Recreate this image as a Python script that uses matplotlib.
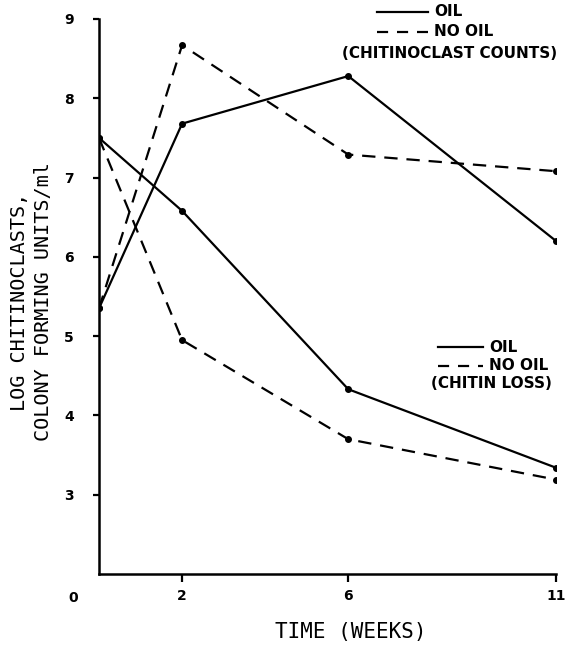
import matplotlib
matplotlib.use('Agg')
import matplotlib.pyplot as plt
from matplotlib.lines import Line2D

# Data (time in weeks, log CFU/ml)
weeks = [0, 2, 6, 11]
counts_oil = [5.35, 7.68, 8.28, 6.20]
counts_no_oil = [5.35, 8.67, 7.29, 7.08]
loss_oil = [7.50, 6.58, 4.33, 3.34]
loss_no_oil = [7.50, 4.95, 3.70, 3.19]

y_ticks = [3, 4, 5, 6, 7, 8, 9]
x_ticks = [2, 6, 11]
x_tick_labels = ['2', '6', '11']

plt.rcParams['font.family'] = 'DejaVu Sans'

fig = plt.figure(figsize=(5.68, 6.46), dpi=100)
ax = fig.add_axes([0.1743, 0.1115, 0.8046, 0.8591])

line_kw = dict(color='black', linewidth=1.6, marker='o', markersize=4)
dash = (0, (6, 4))
ax.plot(weeks, counts_oil, linestyle='-', **line_kw)
ax.plot(weeks, counts_no_oil, linestyle=dash, **line_kw)
ax.plot(weeks, loss_oil, linestyle='-', **line_kw)
ax.plot(weeks, loss_no_oil, linestyle=dash, **line_kw)

ax.set_xlim(0, 11)
ax.set_ylim(2, 9)
for side in ['top', 'right']:
    ax.spines[side].set_visible(False)
for side in ['left', 'bottom']:
    ax.spines[side].set_linewidth(1.8)

ax.set_yticks(y_ticks)
ax.set_yticklabels([str(v) for v in y_ticks], fontweight='bold', fontsize=10)
ax.set_xticks(x_ticks)
ax.set_xticklabels(x_tick_labels, fontweight='bold', fontsize=10)
ax.tick_params(axis='y', direction='out', length=4, width=1.6, pad=14)
ax.tick_params(axis='x', direction='out', length=6, width=1.6, pad=5)

# corner "0" label
ax.text(-0.62, 2 - 0.21, '0', fontweight='bold', fontsize=10, ha='center', va='top',
        clip_on=False)

# axis labels (lettering-guide style, so a monospaced face)
mono = 'DejaVu Sans Mono'
fig.text(0.034, 0.5325, 'LOG CHITINOCLASTS,', rotation=90, ha='center', va='center',
         fontsize=14.5, family=mono)
fig.text(0.077, 0.5325, 'COLONY FORMING UNITS/ml', rotation=90, ha='center', va='center',
         fontsize=14.5, family=mono)
fig.text(0.617, 0.022, 'TIME (WEEKS)', ha='center', va='center', fontsize=15, family=mono)


def legend_block(x0, x1, y_solid, y_dash, text_x, cap_x, cap_y, caption):
    fig.add_artist(Line2D([x0, x1], [y_solid, y_solid], color='black', linewidth=1.6,
                          transform=fig.transFigure))
    fig.add_artist(Line2D([x0, x1], [y_dash, y_dash], color='black', linewidth=1.6,
                          linestyle=(0, (5, 4)), transform=fig.transFigure))
    fig.text(text_x, y_solid, 'OIL', fontweight='bold', fontsize=11, ha='left', va='center')
    fig.text(text_x, y_dash, 'NO OIL', fontweight='bold', fontsize=11, ha='left', va='center')
    fig.text(cap_x, cap_y, caption, fontweight='bold', fontsize=11, ha='center', va='center')


# legend for chitinoclast counts (top) and chitin loss (lower right)
legend_block(377 / 568, 428 / 568, 1 - 12 / 646, 1 - 32 / 646, 434 / 568,
             450 / 568, 1 - 53 / 646, '(CHITINOCLAST COUNTS)')
legend_block(438 / 568, 483 / 568, 1 - 347 / 646, 1 - 366 / 646, 489 / 568,
             491 / 568, 1 - 383 / 646, '(CHITIN LOSS)')

plt.savefig('out.png', dpi=100)
